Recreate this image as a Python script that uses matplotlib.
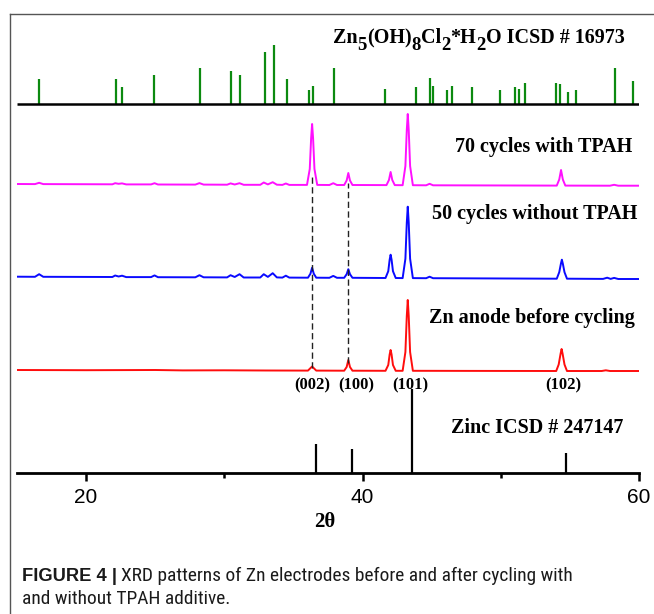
import matplotlib
matplotlib.use("Agg")
import matplotlib.pyplot as plt
from matplotlib.lines import Line2D
from matplotlib import font_manager
import os

# ---------------- data ----------------
# Zn5(OH)8Cl2*H2O reference sticks (2theta, relative intensity)
hzc_pos = [16.62, 22.17, 22.63, 24.93, 28.21, 30.46, 31.14, 32.92, 33.60, 34.51,
           36.14, 36.43, 37.97, 41.62, 43.86, 44.86, 45.12, 46.11, 46.45, 47.92,
           49.91, 51.01, 51.33, 51.76, 54.01, 54.25, 54.88, 55.41, 58.24, 59.54]
hzc_int = [25.3, 25.3, 16.7, 29.3, 36.3, 33.0, 29.3, 51.7, 59.0, 25.3,
           14.0, 18.3, 36.3, 15.0, 16.7, 25.7, 18.3, 14.0, 18.3, 16.7,
           14.0, 16.7, 15.3, 21.0, 21.0, 20.3, 12.3, 14.0, 36.3, 22.7]

# Zinc reference sticks
zinc_pos = [36.6, 39.25, 43.55, 54.7]
zinc_int = [28.7, 24.0, 83.7, 19.7]

# 70 cycles with TPAH (magenta)
tpah70_x = [15.0, 16.3, 16.6, 16.9, 21.9, 22.1, 22.35, 22.6, 22.9, 24.7, 24.95, 25.2,
            27.9, 28.2, 28.5, 30.2, 30.45, 30.75, 31.1, 31.4, 32.6, 32.85, 33.15, 33.5,
            33.8, 34.2, 34.45, 34.7,
            35.98, 36.18, 36.28, 36.35, 36.42, 36.52, 36.72,
            37.6, 37.88, 38.15,
            38.67, 38.85, 38.97, 39.09, 39.27,
            41.73, 41.91, 42.03, 42.15, 42.33,
            42.9, 43.1, 43.2, 43.27, 43.34, 43.44, 43.64,
            44.6, 44.85, 45.1,
            54.05, 54.23, 54.36, 54.49, 54.67,
            57.9, 58.2, 58.5, 60.0]
tpah70_y = [0.0, -0.1, 1.2, -0.1, -0.3, 0.8, 0.2, 0.6, -0.4, -0.4, 0.8, -0.5,
            -0.6, 0.9, -0.6, -0.7, 0.6, -0.5, 0.8, -0.8, -0.8, 1.5, -0.4, 1.8,
            -0.7, -0.9, 0.5, -0.9,
            -0.9, 15.0, 46.0, 60.0, 46.0, 15.0, -0.9,
            -1.0, 0.8, -1.0,
            -1.0, 3.5, 11.0, 3.5, -1.0,
            -1.1, 4.0, 12.0, 4.0, -1.1,
            -1.2, 18.0, 54.0, 70.0, 54.0, 18.0, -1.2,
            -1.3, 0.2, -1.3,
            -1.6, 4.5, 14.0, 4.5, -1.6,
            -1.7, -0.8, -1.7, -1.7]

# 50 cycles without TPAH (blue)
no50_x = [15.0, 16.3, 16.6, 16.9, 21.9, 22.1, 22.35, 22.6, 22.9, 24.7, 24.95, 25.2,
          27.9, 28.2, 28.5, 30.2, 30.45, 30.75, 31.1, 31.4, 32.6, 32.85, 33.15, 33.5,
          33.8, 34.2, 34.45, 34.7,
          36.05, 36.23, 36.35, 36.47, 36.65,
          37.6, 37.88, 38.15,
          38.67, 38.85, 38.97, 39.09, 39.27,
          41.66, 41.86, 41.96, 42.03, 42.1, 42.2, 42.4,
          42.9, 43.1, 43.2, 43.27, 43.34, 43.44, 43.64,
          44.6, 44.85, 45.1,
          54.05, 54.23, 54.35, 54.42, 54.49, 54.61, 54.79,
          57.4, 57.7, 57.95, 58.2, 58.5, 60.0]
no50_y = [0.0, -0.1, 2.5, -0.1, -0.3, 1.2, 0.2, 1.0, -0.4, -0.4, 1.3, -0.5,
          -0.6, 1.5, -0.6, -0.7, 1.5, -0.3, 2.5, -0.8, -0.8, 2.5, -0.2, 3.5,
          -0.7, -0.9, 1.0, -0.9,
          -1.0, 3.0, 9.0, 3.0, -1.0,
          -1.1, 0.8, -1.1,
          -1.1, 2.5, 7.5, 2.5, -1.1,
          -1.3, 5.5, 17.0, 22.0, 17.0, 5.5, -1.3,
          -1.4, 18.0, 54.0, 70.0, 54.0, 18.0, -1.4,
          -1.5, 0.0, -1.5,
          -2.0, 4.5, 13.0, 17.0, 13.0, 4.5, -2.0,
          -2.2, -1.0, -2.2, -1.2, -2.3, -2.3]

# Zn anode before cycling (red)
pristine_x = [15.0, 20.0, 25.0, 27.0, 30.0, 33.0, 36.05, 36.35, 36.65,
              38.67, 38.85, 38.97, 39.09, 39.27,
              41.66, 41.86, 41.96, 42.03, 42.1, 42.2, 42.4,
              42.9, 43.1, 43.2, 43.27, 43.34, 43.44, 43.64,
              48.0, 54.01, 54.19, 54.33, 54.4, 54.47, 54.61, 54.79,
              57.3, 57.6, 57.9, 60.0]
pristine_y = [0.0, -0.2, 0.0, -0.4, -0.3, -0.5, -0.6, 3.5, -0.6,
              -0.7, 3.0, 10.0, 3.0, -0.7,
              -0.8, 5.0, 15.5, 20.0, 15.5, 5.0, -0.8,
              -0.8, 18.0, 54.0, 70.0, 54.0, 18.0, -0.8,
              -0.9, -1.0, 5.5, 16.5, 21.0, 16.5, 5.5, -1.0,
              -1.0, -0.3, -1.0, -1.0]

dash_pos = [36.35, 38.97]
hkl_labels = ["(002)", "(100)", "(101)", "(102)"]
hkl_pos = [36.38, 39.53, 43.48, 54.53]

xticks = [20, 40, 60]
xtick_labels = ["20", "40", "60"]

# title pieces: (text, is_subscript)
title_parts = [("Zn", False), ("5", True), ("(OH)", False), ("8", True), ("Cl", False),
               ("2", True), ("*H", False), ("2", True), ("O ICSD # 16973", False)]

# ---------------- figure ----------------
W, H = 654, 614
fig = plt.figure(figsize=(W / 100, H / 100), dpi=100)
fig.patch.set_facecolor("white")
renderer = fig.canvas.get_renderer()

def fx(px):
    return px / W

def fy(py):
    return 1 - py / H

ax = fig.add_axes([fx(17), fy(473), fx(639) - fx(17), fy(20) - fy(473)])
ax.set_xlim(15, 60)
ax.set_ylim(0, 453)
ax.patch.set_alpha(0)

serif = "Liberation Serif"

# offsets (vertical stacking)
off_hzc = 369
off_70 = 289
off_50 = 196.3
off_red = 103

# green reference
ax.plot([15, 60], [off_hzc, off_hzc], color="black", lw=1.8, solid_capstyle="butt", zorder=3)
ax.vlines(hzc_pos, off_hzc, [off_hzc + v for v in hzc_int], color="#0c8a10", lw=1.6, zorder=2)

# patterns
ax.plot(tpah70_x, [v + off_70 for v in tpah70_y], color="#ff10ff", lw=1.4, solid_joinstyle="round")
ax.plot(no50_x, [v + off_50 for v in no50_y], color="#0a0aff", lw=1.4, solid_joinstyle="round")
ax.plot(pristine_x, [v + off_red for v in pristine_y], color="#ff0d0d", lw=1.4, solid_joinstyle="round")

# dashed guide lines
ax.vlines(dash_pos[0], 105, 296, color="#222222", lw=1.0, linestyles=(0, (4.5, 2.5)))
ax.vlines(dash_pos[1], 110, 290, color="#222222", lw=1.0, linestyles=(0, (4.5, 2.5)))

# zinc sticks
ax.vlines(zinc_pos, 0, zinc_int, color="black", lw=1.6)

# title built from pieces (full-size lowered subscripts)
x_cur = 333.0
for s, sub in title_parts:
    base = 49.5 if sub else 43.3
    t = fig.text(fx(x_cur), fy(base), s, family=serif, weight="bold",
                 size=13.5 if sub else 14.5, ha="left", va="baseline")
    bb = t.get_window_extent(renderer)
    x_cur = bb.x1

ax.text(59.54, 320.7, "70 cycles with TPAH", family=serif, weight="bold", size=14.5,
        ha="right", va="baseline")
ax.text(59.86, 253.7, "50 cycles without TPAH", family=serif, weight="bold", size=14.5,
        ha="right", va="baseline")
ax.text(59.73, 150.3, "Zn anode before cycling", family=serif, weight="bold", size=14.5,
        ha="right", va="baseline")
ax.text(58.89, 39.7, "Zinc ICSD # 247147", family=serif, weight="bold", size=14.5,
        ha="right", va="baseline")
for lab, p in zip(hkl_labels, hkl_pos):
    ax.text(p, 84, lab, family=serif, weight="bold", size=12, ha="center", va="baseline")

# axes styling
for s in ["left", "right", "top"]:
    ax.spines[s].set_visible(False)
ax.spines["bottom"].set_linewidth(2.0)
ax.set_yticks([])
ax.set_xticks(xticks)
ax.set_xticklabels(xtick_labels, family="Liberation Sans", size=15)
ax.set_xticks([30, 50], minor=True)
ax.tick_params(axis="x", which="major", direction="out", length=6, width=1.8, pad=5)
ax.tick_params(axis="x", which="minor", direction="out", length=3.5, width=1.8)

fig.text(fx(324.5), fy(522), "2θ", family=serif, weight="bold", size=15,
         ha="center", va="center")

# panel border
fig.add_artist(Line2D([fx(9.5), fx(9.5)], [fy(13.5), 0], color="#555555", lw=1.0))
fig.add_artist(Line2D([fx(9.5), 1], [fy(13.5), fy(13.5)], color="#555555", lw=1.0))

# caption: bold label in Liberation Sans, body in a condensed sans if installed
files = {os.path.basename(f.fname).lower(): f.fname for f in font_manager.fontManager.ttflist}

def find_font(cands):
    for c in cands:
        for k, v in files.items():
            if k.startswith(c):
                return v
    return None

reg_file = find_font(["robotocondensed-regular", "roboto_condensed-regular",
                      "liberationsansnarrow-regular", "opensans_condensed-regular",
                      "opensans-condensed", "dejavusanscondensed.ttf"])

def body_kwargs(size):
    if reg_file:
        return dict(fontproperties=font_manager.FontProperties(fname=reg_file, size=size))
    return dict(family="Liberation Sans", size=size)

line1_a = "FIGURE 4 |"
line1_b = "XRD patterns of Zn electrodes before and after cycling with"
line2 = "and without TPAH additive."
cap_left = 22.0
target_right = 572.0
base1 = 581.0
base2 = 604.5

ta = fig.text(fx(cap_left), fy(base1), line1_a, color="#1a1a1a", va="baseline",
              family="Liberation Sans", weight="bold", size=13.2)
body_left = ta.get_window_extent(renderer).x1 + 4
size0 = 12.0
tb = fig.text(0, fy(base1), line1_b, color="#1a1a1a", va="baseline", **body_kwargs(size0))
wb = tb.get_window_extent(renderer).width
size1 = size0 * (target_right - body_left) / wb
tb.remove()
fig.text(body_left / W, fy(base1), line1_b, color="#1a1a1a", va="baseline", **body_kwargs(size1))
fig.text(fx(cap_left), fy(base2), line2, color="#1a1a1a", va="baseline", **body_kwargs(size1))

fig.savefig("out.png", dpi=100)
